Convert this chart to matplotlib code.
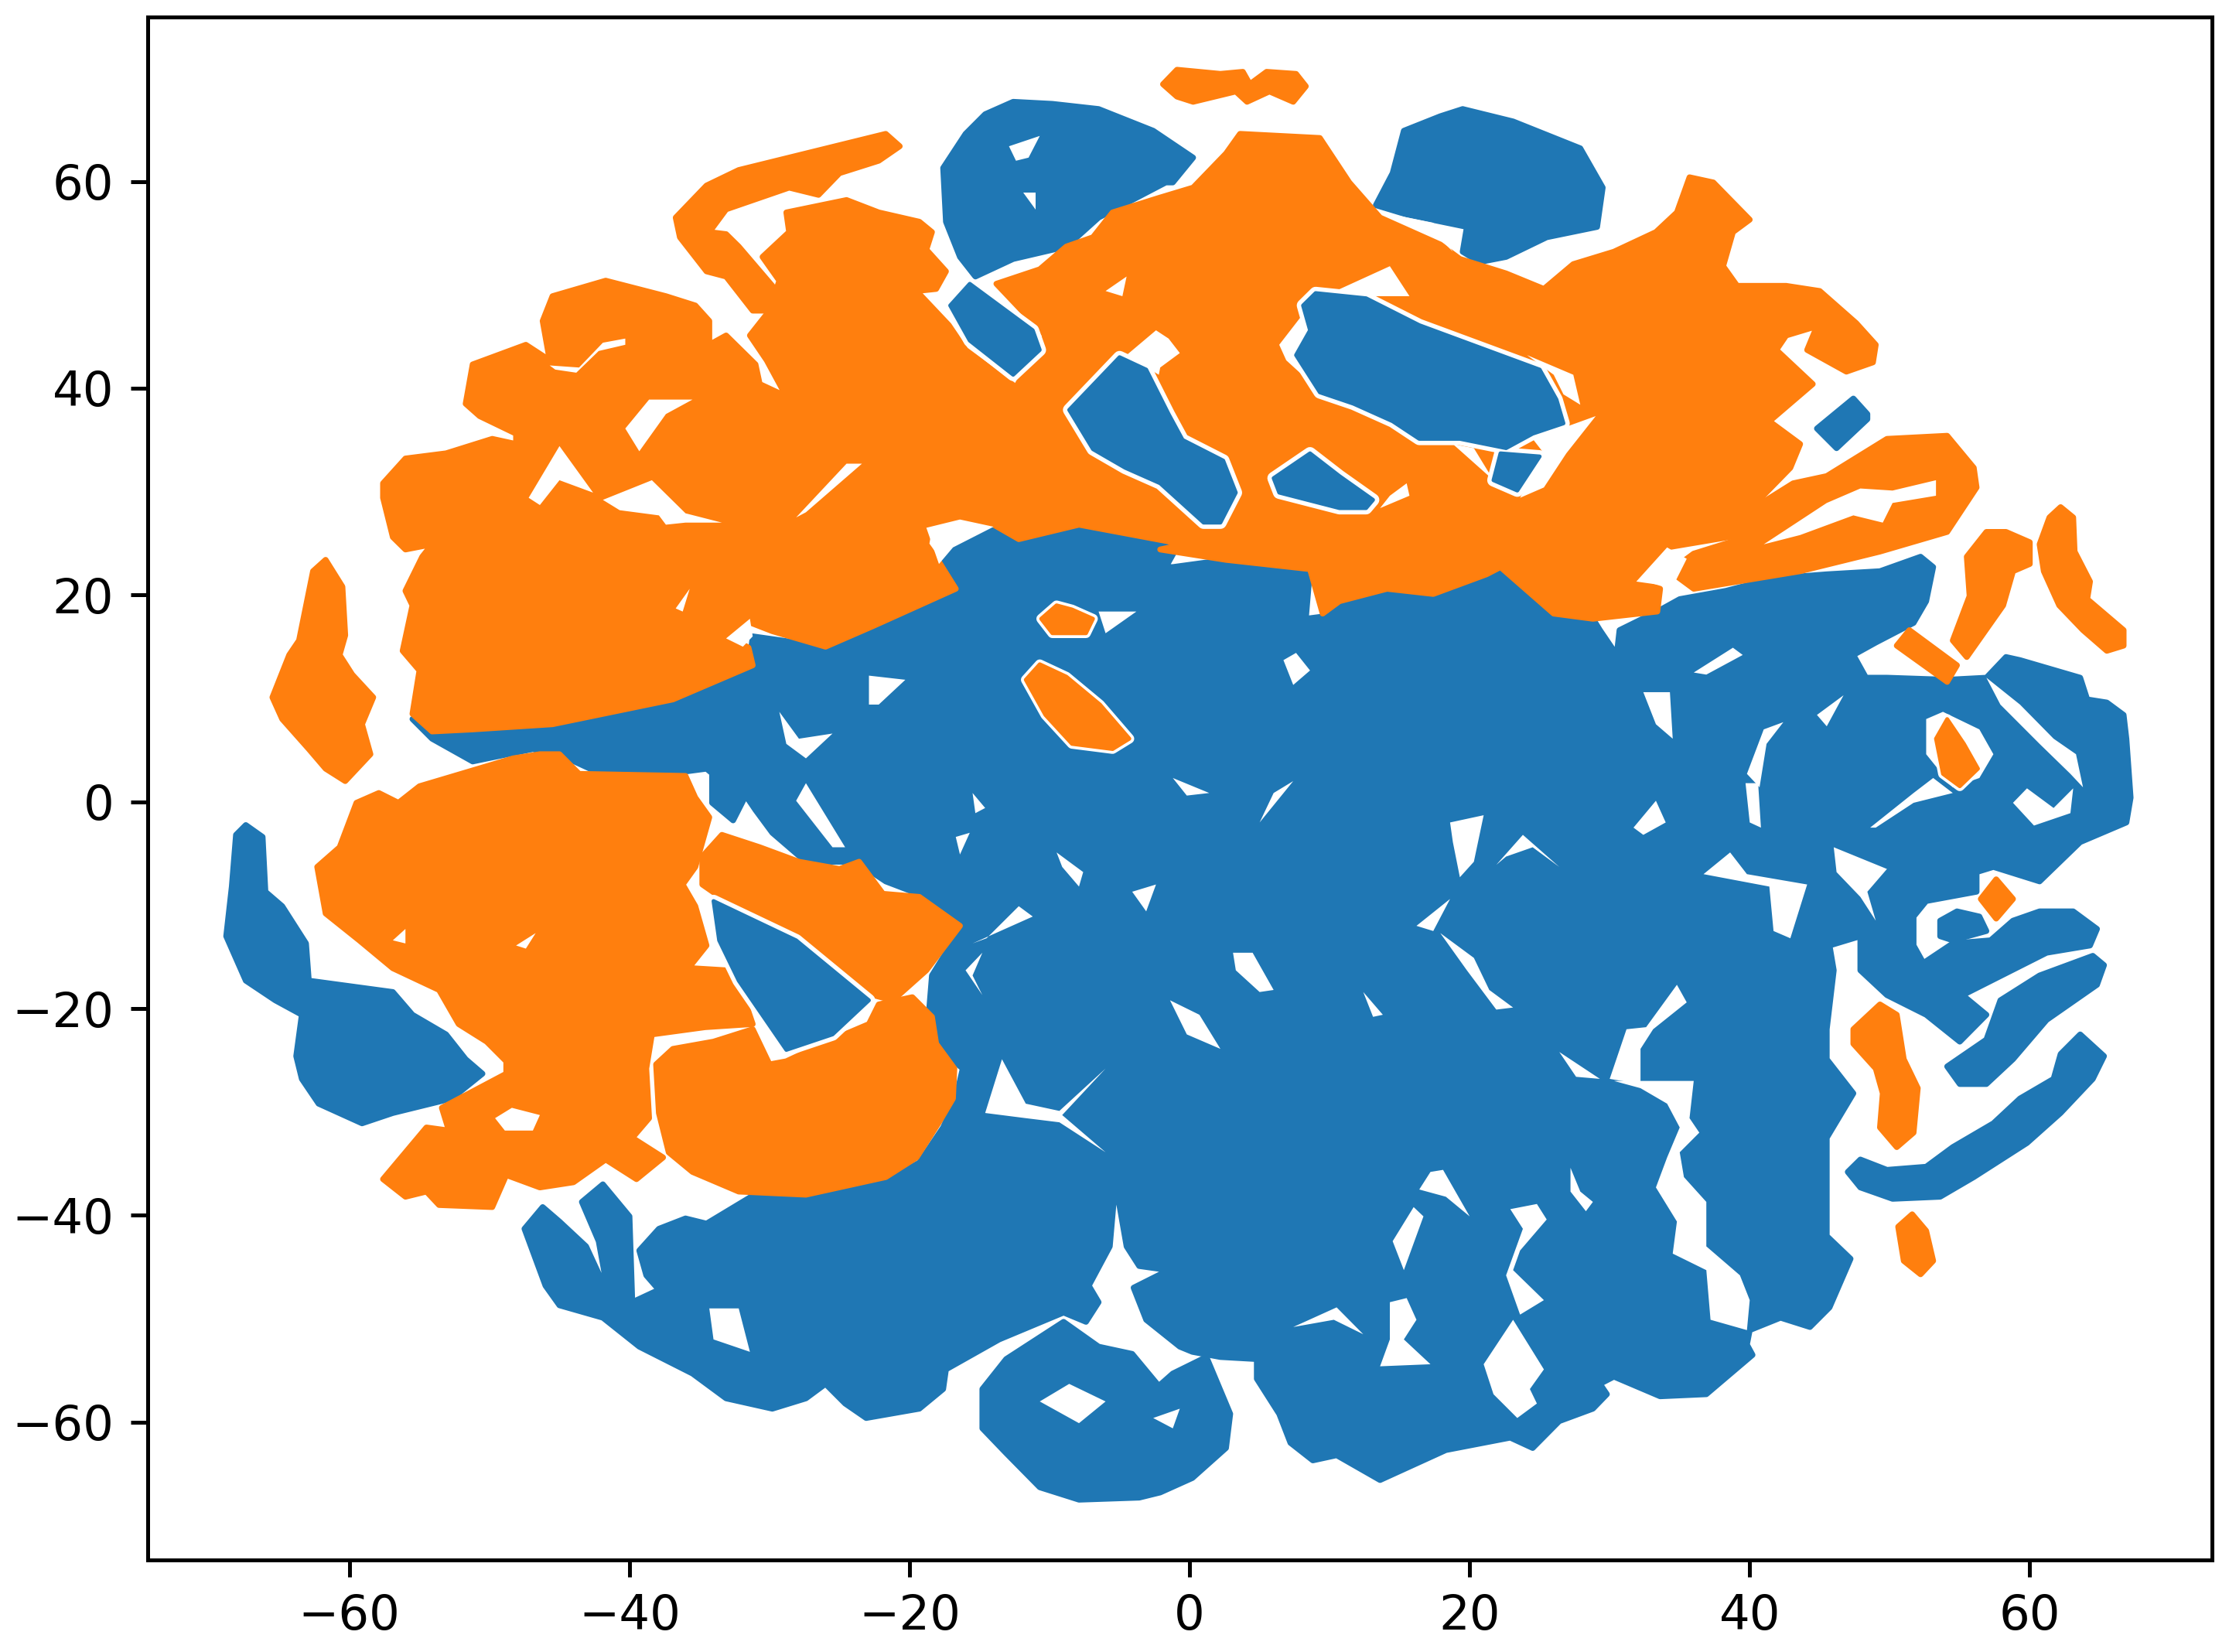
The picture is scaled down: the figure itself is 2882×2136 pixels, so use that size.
import matplotlib
matplotlib.use('Agg')
import matplotlib.pyplot as plt

# cluster outlines, in data units (x, y)
blue_main = [(-55.5,8),(-54.1,6.1),(-51.2,3.9),(-46.9,5.1),(-44.1,4),(-41.7,2.5),(-38.4,2.5),(-34.5,3.2),(-34.1,2.75),
    (-34.1,-0.1),(-32.6,-1.8),(-31.7,0.6),(-31,-0.8),(-29.8,-3),(-27.4,-5.8),(-23.8,-5.8),(-21.7,-7.7),(-18.8,-9.2),(-16.2,-12),
    (-18.4,-16.8),(-18.6,-20.1),(-18.4,-22),(-17.9,-23.9),(-16.2,-25.8),(-16.7,-28.7),(-17.6,-31.5),(-19.3,-34.9),(-21.2,-36.3),
    (-27.4,-38),(-30.7,-37.7),(-34.5,-40.8),(-36,-40.3),(-37.9,-41.3),(-39.3,-43.4),(-38.8,-45.8),(-37.9,-47.2),(-39.8,-48.4),
    (-40,-40.1),(-41.9,-37),(-43.4,-38.7),(-42.2,-42.5),(-41.5,-47.7),(-43.1,-43),(-45,-40.6),(-46.2,-39.2),(-47.5,-41.3),
    (-46,-46.8),(-45,-48.7),(-41.9,-49.9),(-39.3,-52.7),(-35.5,-55.3),(-33.1,-57.7),(-29.8,-58.7),(-27.4,-57.7),(-26,-56.3),
    (-24.6,-58.2),(-23.1,-59.6),(-19.3,-58.7),(-17.6,-56.8),(-17.4,-54.9),(-13.6,-52),(-9,-49.4),(-7.4,-50.3),(-6.5,-48.4),
    (-7.2,-46.8),(-5.7,-43),(-5.3,-36.8),(-4.5,-43),(-3.6,-44.9),(-1.5,-45.3),(-4,-47),(-3.1,-50.1),(-0.7,-52.7),(0.2,-53.2),
    (2.2,-53.7),(4.8,-53.9),(4.8,-55.8),(6.4,-59.2),(7.2,-62),(8.8,-63.7),(10.5,-63.2),(13.6,-65.6),(18.3,-62.7),(22.9,-61.5),
    (24.5,-62.5),(26.4,-59.9),(28.8,-58.7),(29.8,-57.3),(29.3,-56.3),(30.3,-55.6),(33.6,-57.5),(36.9,-57.3),(40.2,-53.5),
    (39.8,-52.5),(40,-51.1),(42.2,-49.9),(44.3,-50.8),(45.7,-48.9),(47.2,-44.2),(45.5,-42),(45.5,-39.2),(45.5,-32.5),(47.4,-28.2),
    (45.5,-24.9),(45.5,-22),(46,-16.3),(45.7,-13.9),(47.9,-13),(47.9,-16.3),(49.8,-18.7),(52.6,-20.6),(55,-23.2),(56.9,-20.6),
    (55.2,-18.7),(61.2,-14.6),(64.3,-13.9),(64.8,-12.3),(63.1,-10.6),(60.7,-10.6),(58.8,-11.5),(57.2,-13.4),(54.5,-13.7),
    (52.4,-15.6),(51.7,-13.9),(51.7,-11.1),(52.6,-9.6),(56.2,-8.7),(56.2,-6.8),(57.4,-6.3),(60.7,-7.7),(63.6,-3.9),(66.9,-2),
    (67.2,0.4),(66.9,6.07),(66.7,8.4),(65.5,9.6),(64.1,9.9),(63.6,12),(59.3,13.7),(58.3,14),(56.9,12),(54.1,11.8),(49.8,12),
    (48.3,12),(47.4,14.2),(49,15.4),(51.7,17.3),(52.6,19.4),(53.1,22.7),(52.2,23.7),(49.3,22.3),(45.5,22),(41.7,21.6),(38.3,20.4),
    (35,19.6),(33.4,18.4),(30.7,16.6),(30.5,14.2),(29.3,16.6),(28.8,17.7),(26,18.2),(22.2,22.7),(21.2,22),(17.4,20.1),(14.1,20.6),
    (10.7,19.4),(10,18),(8.3,17.7),(8.6,22.5),(2.6,23.4),(-1.2,22.7),(-1.7,22.7),(-1,24.4),(-3.6,25.6),(-7.9,26.5),(-11.7,25.6),
    (-14,26.8),(-16.9,25.1),(-17.9,23.2),(-17.4,21.5),(-16.4,20.4),(-22.6,17),(-26,15),(-31.2,16),(-31.5,12.7),(-36.9,9.9),
    (-45.5,7.5),(-51.2,7)]
blue_tail = [(-67.4,-2.25),(-66.2,-3.4),(-66,-8.7),(-64.8,-10.1),(-63.1,-13.7),(-62.9,-17.3),(-56.9,-18.4),(-55.5,-20.6),(-53.1,-22.5),
    (-51.7,-24.9),(-50.5,-26.3),(-52.7,-28.7),(-56.9,-30.1),(-59.1,-31.1),(-62.2,-29.2),(-63.4,-26.8),(-63.8,-24.6),(-63.4,-20.6),
    (-65.3,-19.2),(-67.4,-17.3),(-68.8,-13),(-68.4,-8.2),(-68.1,-3.2)]
blue_circle = [(-9,-50.3),(-6.5,-52.7),(-4.1,-53.4),(-2.2,-56.5),(-1.2,-55.3),(1.2,-53.7),(2.9,-59.2),(2.6,-62.5),(0.2,-65.4),(-2.1,-66.8),
    (-3.6,-67.3),(-7.9,-67.5),(-10.7,-66.3),(-13.1,-63),(-14.8,-60.6),(-14.8,-56.8),(-13.1,-53.9)]
blue_top_left = [(-12.6,67.7),(-9.8,67.5),(-6.5,67),(-2.6,64.9),(0.25,62.3),(-1.2,59.9),(-1.7,59.9),(-6.5,56.5),(-8.8,53.7),(-12.6,52.5),
    (-15.3,50.8),(-16.4,52.7),(-17.4,56.1),(-17.6,61.3),(-16,64.6),(-14.6,66.5)]
blue_top_right = [(19.5,67),(23.1,65.8),(27.9,63.2),(29.5,59.4),(29.1,55.6),(25.5,54.6),(22.6,52.7),(20.7,52.2),(19.5,53.2),(19.8,55.6),
    (15.5,56.8),(13.3,57.7),(14.5,60.8),(15.3,64.9),(17.9,66.3)]
blue_small_right = [(47.4,39),(48.4,37.5),(48.4,37),(46.2,34.2),(44.8,36.1)]
blue_arc = [(63.6,-22.5),(65.3,-24.6),(64.5,-26.8),(62.2,-30.1),(59.8,-33),(56,-36.3),(53.6,-38.2),(50.2,-38.4),(47.9,-37.3),(47,-35.8),
    (47.9,-34.6),(49.8,-35.6),(52.6,-35.3),(54.5,-33.4),(57.4,-31.1),(59.3,-28.7),(61.7,-26.8),(62.2,-24.4)]
blue_lobe = [(65.3,-15.8),(64.8,-17.7),(61.2,-21.1),(58.8,-24.9),(56.9,-27.3),(55,-27.3),(54.1,-25.6),(56.9,-23),(57.9,-19.2),(60.7,-16.8),(64.5,-14.9)]
blue_hook_dot = [(53.6,-11.5),(54.8,-10.6),(56.4,-11.1),(56.9,-12.5),(54.5,-13.4),(53.6,-13)]

# blue islands that sit inside the orange, drawn last with a white rim
island_a = [(-15.7,50.1),(-11.2,45.6),(-10.7,43.7),(-12.6,41.3),(-15.7,44.6),(-17.1,48)]
island_b = [(-5,43),(-3.1,41.8),(-1.5,37.5),(-0.5,35),(2.4,33),(3.3,29.9),(2.2,27),(1,27),(-2.1,30.8),(-4.6,32.3),(-6.9,34.1),(-8.6,37.9)]
island_c = [(9,49.2),(12.6,48.7),(16.4,46.1),(21.2,43.7),(25,41.8),(26.2,38.9),(26.7,36.6),(24.5,35.6),(22.6,34.2),(19.3,35.1),(16.4,35.1),
    (14.5,36.8),(11.7,38.5),(9.3,39.6),(7.6,43.2),(8.6,45.6),(8.1,48)]
island_d = [(22.2,33.7),(25,33.4),(23.4,30.1),(21.7,31.1)]
island_e = [(8.6,33.7),(10.7,31.5),(13.1,29.2),(12.6,28.4),(10.7,28.4),(6.4,29.9),(6,31.3)]
island_f = [(-34,-9.6),(-28.1,-13.4),(-22.9,-19.2),(-25.5,-22.5),(-28.8,-24),(-32.2,-17.3),(-33.6,-13.4)]

orange_west = [(-57.6,30.8),(-56,33.2),(-53.1,33.7),(-49.8,35.1),(-48.1,34.6),(-48.1,35.6),(-50.7,37.3),(-51.7,38.5),(-51.2,42.3),(-47.4,44.2),
    (-45.7,42.7),(-46.2,46.5),(-45.5,48.9),(-41.7,50.4),(-37.4,48.9),(-35.3,48),(-34.3,46.5),(-34.3,44.2),(-33.1,45.1),(-31,42.3),(-30.7,40.4),
    (-28.8,39.2),(-30.2,42.7),(-31.4,45.1),(-30,47.5),(-29.3,50.4),(-30.5,52.7),(-28.6,55.1),(-28.8,57),(-24.5,58.2),(-22.2,57),(-19.3,56.1),
    (-18.4,55.1),(-18.8,53.4),(-17.4,51.3),(-18.1,49.6),(-19.5,49.4),(-17.2,46.1),(-16,43.7),(-12.4,40.1),(-10.3,38),(-6.9,32.7),(-5.5,33.2),
    (0,29.9),(-0.4,24.9),(-7.9,26.8),(-12.2,25.4),(-14,26.8),(-16.4,27.5),(-18.6,26.5),(-18.8,24.9),(-17.9,23.2),(-16.7,20.6),(-22.6,17),(-26,15),
    (-29.8,16.5),(-31.7,17.5),(-32.9,16),(-31.5,14.9),(-31.2,13.2),(-36.9,9.9),(-45.5,7.5),(-51.2,7),(-54.1,6.8),(-55.5,8.5),(-55,12.7),(-56.2,14.6),
    (-55.5,19),(-56,20.4),(-54.8,23.7),(-54.1,24.9),(-56,24.4),(-56.9,25.6),(-57.6,29.4)]
orange_thread = [(-21.7,64.6),(-20.7,63.4),(-22.2,62),(-25,60.8),(-26.5,58.7),(-28.6,59.4),(-33.1,57.3),(-34.3,55.1),(-33.1,54.9),(-32.2,53.7),
    (-29.8,49.9),(-30,47.5),(-31.2,47.5),(-33.1,50.8),(-34.5,51.3),(-36.4,54.6),(-36.7,56.5),(-34.5,59.6),(-32.2,61.1),(-27.4,62.7)]
orange_sliver = [(-61.7,23.4),(-60.5,20.8),(-60.3,16.1),(-60.7,14.2),(-59.8,12.3),(-58.3,10.1),(-59.1,7.5),(-58.5,4.6),(-60.3,2),(-61.7,3.2),
    (-62.9,5.1),(-64.8,8),(-65.5,10.1),(-64.3,14.2),(-63.6,15.6),(-62.6,22.3)]
orange_bar = [(-0.9,70.8),(2.2,70.4),(3.8,70.6),(4.3,69.4),(5.5,70.6),(7.6,70.4),(8.3,69.2),(7.4,67.7),(5.7,68.7),(4.1,67.7),(3.3,68.7),(0.25,67.7),
    (-0.9,68.2),(-1.9,69.4)]
orange_east = [(-13.8,50.1),(-10.7,51.5),(-8.8,53.7),(-6.9,54.6),(-5.5,57),(-2.2,58.4),(0.25,59.4),(2.6,62.7),(3.6,64.6),(9.3,64.2),(11.4,59.9),
    (13.6,56.5),(17.9,53.9),(19.3,52.5),(22.6,51.1),(25.3,49.6),(27.4,52),(30.3,53.2),(33.3,55.1),(34.8,57),(35.7,60.4),(37.4,59.9),(40,56.3),
    (38.8,55.1),(38.1,51.8),(39.1,49.9),(42.6,49.9),(45,49.4),(47.6,46.3),(49,44.2),(48.8,42.5),(46.9,41.6),(44.1,43.7),(44.8,46),(42.6,45.1),
    (41.9,43.7),(44.5,40.4),(41.4,36.8),(43.6,34.6),(42.9,32.3),(39.8,28),(40.7,26.1),(34.1,24.6),(31.9,21.3),(33.6,20.6),(33.4,18.4),(28.8,17.7),
    (26,18.2),(22.2,22.7),(21.2,22),(17.4,20.1),(14.1,20.6),(10.7,19.4),(9.5,18.2),(8.6,22.5),(2.6,23.4),(-2.1,24.4),(-0.4,24.9),(-6.9,32.7),
    (-10.3,38),(-12.4,40.1),(-10.3,45.1)]
orange_loop = [(39.8,28),(43.1,30.8),(45.5,31.5),(49.8,35.1),(54.1,35.4),(56,32.3),(56.2,30.4),(54.1,26.1),(49.3,24.2),(43.6,22.3),(36,20.6),(34.3,22.3),
    (36,24),(39.8,25.6)]
orange_south = [(-55,1.5),(-48.3,4.2),(-46.4,4.6),(-45,4.6),(-43.6,2.7),(-36,2.5),(-35.3,0.4),(-34.3,-1.5),(-35.3,-6.3),(-36.2,-8),(-35.3,-10.1),
    (-34.5,-13.9),(-35.5,-15.6),(-40,-17),(-39.8,-17.5),(-35.5,-16.1),(-33.1,-16.3),(-31.9,-18.7),(-31.2,-21.5),(-34.6,-21.8),(-38.4,-22.5),
    (-38.8,-25.8),(-38.6,-30.6),(-39.8,-32.5),(-37.6,-34.4),(-39.5,-36.5),(-41.7,-34.6),(-44,-36.8),(-46.4,-37.3),(-48.8,-36.1),(-49.8,-39.2),
    (-53.6,-39),(-54.5,-37.7),(-56,-38.2),(-57.6,-36.5),(-54.5,-31.5),(-52.9,-31.8),(-53.4,-29.6),(-48.8,-26.3),(-48.8,-25.1),(-50.2,-23.2),
    (-52.2,-21.5),(-53.6,-18.2),(-56.9,-16.1),(-59.3,-13.4),(-61.7,-10.8),(-62.3,-6.3),(-60.7,-4.4),(-59.5,-0.1),(-57.9,0.85),(-56.5,-0.1)]
orange_crescent = [(-19.8,-18.9),(-18.4,-20.8),(-18.1,-23.4),(-16.8,-25.8),(-16.9,-28.7),(-17.9,-31),(-19.5,-34.4),(-21.7,-36.3),(-27.4,-38),(-32.2,-37.7),
    (-35.5,-35.8),(-37.2,-33.9),(-37.9,-30.1),(-38.1,-25.4),(-36.9,-23.9),(-34,-23.2),(-31.2,-22),(-30,-25.4),(-28.8,-25.1),(-25.5,-23),(-22.9,-21.5),(-22.2,-19.6)]
orange_wedge = [(-33.4,-3.2),(-30.7,-4.4),(-27.9,-5.8),(-25,-6.5),(-23.6,-5.8),(-21.9,-8.9),(-19.3,-9.2),(-16.4,-12),(-18.8,-16.3),(-21.2,-19.2),(-22.6,-18.7),
    (-25.5,-16.3),(-27.4,-13.4),(-28.8,-13),(-33.1,-9.6),(-34.8,-8),(-34.8,-5.3)]
orange_r1 = [(56.9,26.1),(58.3,26.1),(60,25.1),(60,23),(58.8,22.3),(58.1,19),(55.5,14),(54.5,15.6),(55.7,19.9),(55.5,23.7)]
orange_r2 = [(62.2,28.5),(63.1,27.5),(63.2,24.2),(64.3,21.3),(64.1,19.6),(66.7,16.6),(66.7,15.1),(65.5,14.6),(63.8,16.6),(62.1,19),(61,22.3),(60.7,24.9),(61.4,27.5)]
orange_r3 = [(51.4,16.6),(54.8,13.2),(54.1,11.6),(50.5,15.1)]
orange_r4 = [(54.1,8),(55.3,5.6),(56.3,3.2),(55,1.5),(53.8,2.7),(53.3,6.1)]
orange_r5 = [(57.6,-7.5),(58.8,-9.4),(57.6,-11.3),(56.5,-9.4)]
orange_r6 = [(49.3,-19.6),(50.5,-20.6),(51,-24.9),(52,-27.7),(51.7,-32),(50.5,-33.4),(49.3,-31.5),(49.5,-28.2),(49,-25.8),(47.4,-23.4),(47.4,-22)]
orange_r7 = [(51.6,-39.9),(52.6,-41.5),(53.1,-44.4),(52.2,-45.7),(51,-44.4),(50.6,-41.1)]
orange_c1 = [(-9.5,19),(-8.4,18.6),(-6.9,17.7),(-7.4,16.3),(-9.8,16.3),(-10.6,17.7)]
orange_c2 = [(-10.7,13.3),(-8.8,12.1),(-6.4,9.4),(-4.3,6.1),(-5.5,5.1),(-8.4,5.6),(-10.3,8.4),(-11.7,11.8)]

# gaps between the points
gaps_blue = [
    [(30.3,-27),(36,-27),(35.7,-30.6),(36.4,-32),(35,-33.9),(35.3,-36.3),(36.9,-38.7),(36.9,-43),(39.3,-45.8),(40,-48.2),(39.8,-51.1),(37.2,-50.1),(36.9,-45.3),
     (34.5,-43.7),(34.8,-40.6),(33.3,-37.3),(34.1,-34.4),(35,-31.5),(34.1,-29.2),(32.2,-27.7)],
    [(31.2,-22),(32.6,-21.8),(34.8,-17.7),(35.5,-19.4),(33.1,-22),(32.2,-23.9),(32.2,-27.3),(30,-26.8)],
    [(46,-4.4),(49.8,-6.5),(48.4,-8.7),(49,-11.5),(47.9,-9.2),(46.2,-6.8)],
    [(38.6,-4.9),(39.8,-7),(44.1,-8),(42.9,-13.2),(41.7,-12.5),(41.4,-8.2),(36.7,-7)],
    [(39.7,1.8),(40.6,1.8),(40.8,-2.5),(40,-2)],
    [(39.8,2.7),(41,7),(42.4,7.7),(41.2,5.6),(40.7,1.4)],
    [(58.8,-0.1),(59.8,1.3),(61.7,-0.6),(63.1,1.3),(62.9,-1.1),(60.3,-2.3)],
    [(56.9,12),(59.3,9.4),(61.7,6.1),(63.3,4.6),(63.8,1.4),(62.9,2.7),(60.7,5.6),(57.9,9.4)],
    [(52.6,8),(53.8,8.7),(56.4,7),(57.4,4.6),(56.4,2.3),(54.5,1.4),(52.6,4.6)],
    [(48.6,-2.5),(51.7,0.85),(53.1,2.3),(54.5,0.85),(51.7,-0.1),(49,-2.5)],
    [(44.8,8.4),(46.7,10.3),(45.5,7.3)],
    [(32.4,10.6),(34.3,10.6),(34.5,6.1),(33.3,7.5)],
    [(36,12.5),(38.8,14.9),(39.5,14.2),(36.9,12.3)],
    [(6.7,13.7),(7.6,14.4),(8.6,12.7),(7.4,11.3)],
    [(18.6,-2),(21,-1.3),(20.3,-5.8),(19.3,-7.3),(18.8,-3.9)],
    [(21.9,-6.1),(23.8,-3.2),(26.4,-6.3),(24.5,-4.4),(22.6,-5.3)],
    [(31.7,-2.5),(33.3,0.1),(34,-2),(32.4,-3.2)],
    [(16.2,-12),(18.6,-9.4),(17.4,-12.5)],
    [(17.9,-12.7),(20.3,-15.1),(21.4,-18.2),(23.1,-19.9),(21.9,-20.1),(19.8,-16.3)],
    [(3.1,-14.6),(4.5,-14.6),(6,-18.2),(5,-18.4),(3.3,-16.3)],
    [(-1.4,-19.2),(0.7,-20.6),(2.2,-23.9),(-0.2,-22.5)],
    [(12.4,-18.4),(13.8,-20.6),(13.1,-20.8)],
    [(26.4,-24.2),(29.3,-26.8),(27.6,-26.6)],
    [(17.2,-35.8),(18.1,-35.6),(20,-40.1),(18.3,-38.2),(16.4,-37.5)],
    [(16,-39.2),(16.7,-40.1),(15.3,-45.3),(14.5,-42.5)],
    [(22.9,-39.4),(24.8,-38.9),(25.5,-40.4),(23.6,-43.4),(23.1,-45.3),(25.3,-48.2),(23.6,-49.6),(22.6,-45.8),(23.8,-41.3)],
    [(23.1,-50.1),(25.3,-54.9),(24.3,-56.8),(24.8,-58.2),(23.4,-59.6),(21.7,-57.3),(21,-54.4)],
    [(14.3,-48.4),(15.5,-48),(16.2,-50.1),(15.3,-52),(17.2,-54.4),(13.6,-54.6),(14.3,-52)],
    [(7.4,-50.8),(10.5,-48.9),(12.4,-51.5),(10.3,-50.1)],
    [(27.2,-35.4),(27.9,-37.7),(28.8,-38.7),(28.3,-39.6),(27.2,-37.7)],
    [(-34.3,-49),(-32.2,-49),(-31.4,-53.2),(-34,-52)],
    [(-10.7,-58),(-8.6,-56.3),(-6,-58),(-7.9,-60.1)],
    [(-2.6,-59.6),(-0.7,-58.7),(-1.2,-60.6)],
    [(-14.6,-30.1),(-13.4,-24.9),(-11.7,-29.2),(-9.3,-29.9),(-6,-25.8),(-9.1,-30.3),(-6,-33.9),(-9.3,-31),(-11.7,-30.6)],
    [(-15.5,-13.7),(-11.2,-11.1),(-12.2,-10.1),(-14.5,-13.2)],
    [(-16,-16.3),(-14.8,-14.6),(-15.5,-16.8),(-14.8,-18.7)],
    [(-28.1,0.1),(-27.4,1.8),(-24.6,-4.4),(-25.5,-4.4)],
    [(-22.9,12.2),(-20.3,11.8),(-22.2,9.4),(-22.9,9.4)],
    [(-29.3,8.7),(-27.9,6.1),(-25.5,6.6),(-27.4,4.2),(-28.8,5.6)],
    [(-6.5,18.4),(-3.8,18.4),(-6,16.3)],
    [(-9.5,-4.9),(-7.6,-6.8),(-7.9,-8.2),(-9.1,-6.3)],
    [(-4.1,-8.7),(-2.4,-8),(-3.1,-10.6)],
    [(-1.2,2.3),(1.4,0.85),(-0.2,0.6)],
    [(6,0.85),(7.4,2),(5,-2)],
    [(-16.7,-3.4),(-15.7,-3),(-16.4,-5.1)],
    [(-15.5,0.85),(-14.6,-0.6),(-15.3,-1.1)],
    [(-12.9,63.4),(-10.7,64.4),(-11.5,62.3),(-12.4,62)],
    [(-11.9,58.9),(-11,58.9),(-11,57.3)],
]
gaps_orange = [
    [(-47.2,29.4),(-45,34.4),(-42.6,29.9),(-45,31.1),(-46.4,28.7)],
    [(-41.9,29.2),(-38.4,31.1),(-36,27.9),(-33.4,27),(-36,27),(-37.4,26.8),(-37.9,27.7),(-40.7,28.2)],
    [(-40.3,36.1),(-38.6,38.9),(-35.5,38.9),(-37.4,37.5),(-39.3,33.9)],
    [(-28.1,27.5),(-24.5,32.7),(-23.4,32.7),(-27.4,28)],
    [(-45.7,42.2),(-43.6,42),(-41.9,44.4),(-40.3,44.8),(-40.3,44.2),(-42.2,43.6),(-43.8,41.5),(-45.3,41.8)],
    [(-18.8,26.5),(-16.4,27.3),(-14,26.6),(-16.9,24.6),(-17.9,23)],
    [(-4.5,43.2),(-2.4,45.6),(-1.5,44.8),(-0.7,43.4),(-2.1,42),(-2.2,41.3)],
    [(-36.7,18.7),(-35.7,20.6),(-36.2,18.4)],
    [(18.8,34.6),(21.7,31.1),(20.3,34.2)],
    [(24.5,35.1),(29,37.3),(26.9,33.7),(25.3,30.4),(23.6,29.4),(25.3,33.7)],
    [(24.1,43.2),(27.4,41.3),(27.9,38.4),(26.7,39.4),(26,41.3)],
    [(6.4,44.2),(8.8,48.4),(14.3,51.8),(15.7,48.9),(12.2,48.9),(9.3,49.4),(8.1,47.5),(8.6,45.6),(7.6,43.2),(8.6,40.6),(6.9,42.7)],
    [(14.5,56.8),(17.4,56),(18.8,53.2),(17.4,55.1)],
    [(31.9,21.3),(34.1,24.6),(35.5,23.5),(34.5,20.8)],
    [(14.3,29.6),(15.5,30.8),(15.7,29.6),(13.6,28.4)],
    [(-49.6,-30.6),(-48.4,-29.6),(-46.4,-30.3),(-46.9,-31.8),(-48.9,-31.8)],
    [(-56.9,-13.4),(-56,-12.3),(-56,-13.7)],
    [(-48.1,-13.9),(-46.7,-12.7),(-47.4,-14.2)],
    [(-33.1,15.8),(-31.4,17.7),(-31.2,16),(-31.9,15)],
    [(53.3,31.1),(53.3,29.6),(50.2,28.9),(49.5,27),(47.4,27.7),(43.6,25.8),(41,24.9),(45.5,28.9),(47.9,30.3),(50.2,30.1)],
    [(-6,49.4),(-4.5,50.8),(-4.8,48.9)],
]

blue_shapes = [blue_main, blue_tail, blue_circle, blue_top_left, blue_top_right, blue_small_right,
               blue_arc, blue_lobe, blue_hook_dot]
orange_shapes = [orange_west, orange_thread, orange_sliver, orange_bar, orange_east, orange_loop, orange_south,
                 orange_crescent, orange_wedge, orange_r1, orange_r2, orange_r3, orange_r5, orange_r6, orange_r7]
orange_in_blue = [orange_c1, orange_c2, orange_r4]
islands = [island_a, island_b, island_c, island_d, island_e, island_f]
ticks = [-60, -40, -20, 0, 20, 40, 60]


def draw(ax, shapes, color, edge=None, lw=1.2, z=2):
    for s in shapes:
        xs = [p[0] for p in s]
        ys = [p[1] for p in s]
        # a round stroke stands in for the round scatter markers on the rim
        ax.fill(xs, ys, facecolor=color, edgecolor=edge or color, linewidth=lw, joinstyle='round', zorder=z)


fig = plt.figure(figsize=(2882 / 450, 2136 / 450), dpi=450)
ax = fig.add_axes([0.0663, 0.0559, 0.9260, 0.9338])

draw(ax, blue_shapes, '#1f77b4', z=2)
draw(ax, gaps_blue, 'white', lw=0, z=3)
draw(ax, orange_shapes, '#ff7f0e', z=4)
draw(ax, gaps_orange, 'white', lw=0, z=5)
# white halo first, then the shape itself with a round rim
draw(ax, islands, 'white', lw=2.6, z=6)
draw(ax, islands, '#1f77b4', lw=0.8, z=7)
draw(ax, orange_in_blue, 'white', lw=2.0, z=6)
draw(ax, orange_in_blue, '#ff7f0e', lw=0.8, z=7)

ax.set_xlim(-74.4, 73)
ax.set_ylim(-73.3, 75.9)
ax.set_xticks(ticks)
ax.set_yticks(ticks)

fig.savefig('out.png', dpi=450)
